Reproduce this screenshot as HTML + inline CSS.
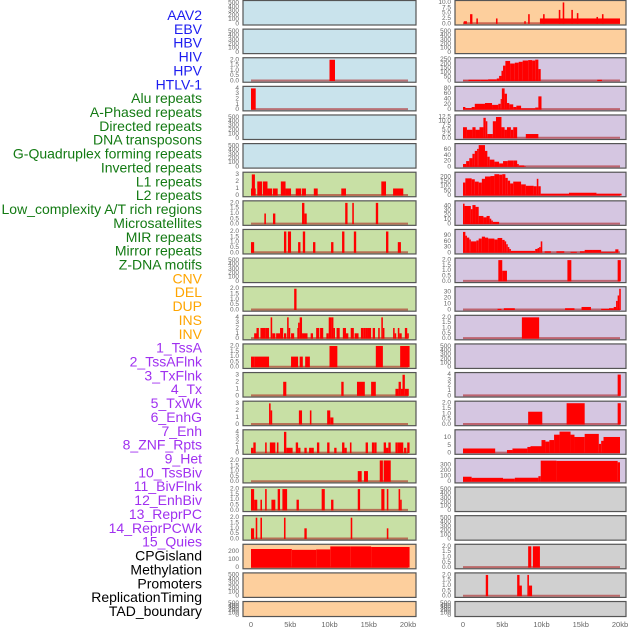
<!DOCTYPE html>
<html><head><meta charset="utf-8">
<style>
html,body{margin:0;padding:0;background:#fff;}
svg{display:block;font-family:"Liberation Sans",sans-serif;}
</style></head>
<body>
<svg id="chart" width="630" height="630" viewBox="0 0 630 630"></svg>
<script>
// ---------- data ----------
const trackLabels = ["AAV2","EBV","HBV","HIV","HPV","HTLV-1","Alu repeats","A-Phased repeats","Directed repeats","DNA transposons","G-Quadruplex forming repeats","Inverted repeats","L1 repeats","L2 repeats","Low_complexity A/T rich regions","Microsatellites","MIR repeats","Mirror repeats","Z-DNA motifs","CNV","DEL","DUP","INS","INV","1_TssA","2_TssAFlnk","3_TxFlnk","4_Tx","5_TxWk","6_EnhG","7_Enh","8_ZNF_Rpts","9_Het","10_TssBiv","11_BivFlnk","12_EnhBiv","13_ReprPC","14_ReprPCWk","15_Quies","CPGisland","Methylation","Promoters","ReplicationTiming","TAD_boundary"];
const labelGroups = [6,13,5,15,5];
const xTickValues = [0,5,10,15,20];
const xTickLabels = ["0","5kb","10kb","15kb","20kb"];

const leftBg = ["blue","blue","blue","blue","blue","blue","green","green","green","green","green","green","green","green","green","green","green","green","green","orange","orange","orange"];
const rightBg = ["orange","orange","purple","purple","purple","purple","purple","purple","purple","purple","purple","purple","purple","purple","purple","purple","purple","gray","gray","gray","gray","gray"];

const leftYMax = [520,520,2.05,4.1,520,520,3.1,2.05,2.05,520,2.05,4.1,2.05,3.1,3.1,4.1,2.05,2.05,2.05,270,520,520];
const rightYMax = [10.2,520,255,82,12.8,75,235,48,115,2.05,36,2.05,520,4.1,2.05,14.2,393,520,520,2.05,2.05,520];

const leftTicks = [
 ["0","100","200","300","400","500"],["0","100","200","300","400","500"],["0.0","0.5","1.0","1.5","2.0"],["0","1","2","3","4"],
 ["0","100","200","300","400","500"],["0","100","200","300","400","500"],["0","1","2","3"],["0.0","0.5","1.0","1.5","2.0"],
 ["0.0","0.5","1.0","1.5","2.0"],["0","100","200","300","400","500"],["0.0","0.5","1.0","1.5","2.0"],["0","1","2","3","4"],
 ["0.0","0.5","1.0","1.5","2.0"],["0","1","2","3"],["0","1","2","3"],["0","1","2","3","4"],["0.0","0.5","1.0","1.5","2.0"],
 ["0.0","0.5","1.0","1.5","2.0"],["0.0","0.5","1.0","1.5","2.0"],["0","100","200"],["0","100","200","300","400","500"],["0","100","200","300","400","500"]];
const rightTicks = [
 ["0.0","2.5","5.0","7.5","10.0"],["0","100","200","300","400","500"],["0","50","100","150","200","250"],["0","20","40","60","80"],
 ["0.0","2.5","5.0","7.5","10.0","12.5"],["0","20","40","60"],["0","50","100","150","200"],["0","10","20","30","40"],
 ["0","30","60","90"],["0.0","0.5","1.0","1.5","2.0"],["0","10","20","30"],["0.0","0.5","1.0","1.5","2.0"],
 ["0","100","200","300","400","500"],["0","1","2","3","4"],["0.0","0.5","1.0","1.5","2.0"],["0","5","10"],
 ["0","100","200","300"],["0","100","200","300","400","500"],["0","100","200","300","400","500"],["0.0","0.5","1.0","1.5","2.0"],
 ["0.0","0.5","1.0","1.5","2.0"],["0","100","200","300","400","500"]];

// segments: [startKb, endKb, value]
const leftSegs = [
 [],[],
 [[10.0,10.7,2]],
 [[0,0.6,4]],
 [],[],
 [[0,0.6,1],[0.1,0.5,3],[0.8,1.4,2],[1.5,2.1,2],[2.1,2.7,1],[2.8,3.4,1],[3.8,4.4,2],[4.4,5.1,1],[5.7,6.4,1],[6.5,7.0,1],[8.0,8.5,1],[11.5,12.1,1],[16.6,17.2,2],[18.1,19.4,1]],
 [[1.7,1.9,1],[2.8,3.1,1],[6.5,6.8,2],[6.8,7.1,1],[12.0,12.3,2],[12.9,13.1,2],[15.9,16.2,2]],
 [[0,0.4,1],[4.2,4.5,2],[4.7,5.1,2],[6.0,6.3,1],[6.6,6.9,2],[7.9,8.2,1],[10.2,10.5,1],[11.6,11.9,2],[13.1,13.4,2],[17.2,17.5,2],[18.7,19.1,1]],
 [],
 [[5.5,5.8,2]],
 [[0.4,0.7,1],[0.7,1.0,2],[1.2,1.8,2],[1.8,2.3,2],[2.5,2.7,4],[2.7,3.1,1],[3.2,3.7,1],[3.7,4.1,2],[4.2,4.5,1],[4.6,4.8,4],[4.8,5.0,2],[5.1,5.5,1],[5.9,6.1,2],[6.0,6.2,3],[6.2,6.5,4],[6.5,7.2,1],[7.6,7.9,1],[8.3,8.7,2],[8.8,9.2,2],[9.6,9.9,1],[9.9,10.2,4],[10.2,10.5,4],[10.5,10.7,2],[10.9,11.3,2],[11.7,12.1,2],[12.1,12.4,1],[12.7,13.1,2],[13.2,13.7,1],[14.0,14.3,2],[14.3,14.6,2],[14.6,14.9,2],[14.9,15.3,2],[15.5,15.8,2],[16.2,16.4,2],[16.6,16.8,4],[16.8,17.0,2],[18.1,18.3,2],[18.3,18.5,1],[18.7,18.9,2],[18.9,19.2,1],[19.6,19.9,2],[19.9,20.1,1]],
 [[0,0.4,1],[0.4,2.3,1],[5.1,6.0,1],[6.2,6.6,1],[6.9,7.5,1],[10.0,11.0,2],[15.9,16.8,2],[19.0,20.2,2]],
 [[4.1,4.5,2],[11.5,11.8,2],[13.5,14.5,2],[15.3,15.9,2],[18.4,18.8,1],[18.8,19.1,2],[19.1,19.3,1],[19.3,19.6,3],[19.6,20.1,1]],
 [[2.3,2.5,3],[2.5,2.7,2],[6.1,6.5,2],[7.5,7.7,2],[9.7,10.1,2],[10.1,10.5,1]],
 [[0,0.3,1],[0.3,0.6,2],[1.8,2.0,2],[2.4,3.1,2],[3.3,3.5,2],[4.2,4.5,4],[4.5,5.3,1],[5.7,6.0,2],[6.0,6.3,1],[6.8,7.1,1],[7.4,7.7,1],[7.7,8.0,1],[8.4,8.7,2],[9.7,10.0,2],[10.6,10.9,1],[11.6,11.9,2],[11.9,12.2,1],[12.6,12.8,2],[14.6,14.9,2],[15.4,15.7,2],[15.7,16.0,2],[16.9,17.2,2],[17.2,17.5,1],[17.5,17.8,2],[18.4,18.7,2],[18.7,19.4,2],[19.5,19.8,1],[19.9,20.2,2]],
 [[13.6,14.1,1],[14.4,14.9,1],[16.4,16.8,2],[16.9,17.8,2]],
 [[0,0.4,2],[0.4,0.8,1],[1.2,1.4,1],[1.8,2.0,2],[2.6,3.1,1],[3.4,3.7,2],[4.0,4.6,2],[5.8,6.1,1],[9.0,9.4,2],[10.2,10.5,1],[13.6,13.9,2],[16.6,17.0,2],[17.3,17.5,2],[18.8,19.0,2],[19.0,19.2,1]],
 [[0,0.4,1],[0.6,0.8,2],[1.2,1.4,2],[4.2,4.4,2],[6.8,7.1,1],[12.7,12.9,2],[17.3,17.5,1]],
 [[0,5.2,230],[5.2,8.3,220],[8.3,10.1,225],[10.1,12.7,262],[12.7,15.3,262],[15.3,20.2,255]],
 [],[]];

const rightSegs = [
 [[0.1,0.5,1.2],[0.9,1.2,4.5],[1.7,1.9,2.5],[4.2,4.4,2.5],[7.8,8.0,1.2],[8.3,8.5,4.5],[9.8,20.0,2.5],[10.2,10.4,4.5],[12.2,12.4,6.5],[12.7,12.9,10],[13.8,14.0,6.5],[14.5,14.7,5],[17.0,17.2,3.2],[17.7,17.9,4.5]],
 [],
 [[0,0.7,5],[0.7,2.2,15],[2.2,3.2,15],[3.2,4.3,20],[4.3,4.6,30],[4.6,4.9,60],[4.9,5.1,120],[5.1,5.4,180],[5.4,6.0,235],[6.0,6.6,205],[6.6,7.1,215],[7.1,7.6,225],[7.6,8.3,240],[8.3,8.8,245],[8.8,9.2,240],[9.2,9.6,250],[9.6,9.9,140],[17.1,17.7,15]],
 [[0,0.3,10],[0.3,1.1,6],[1.1,1.5,10],[1.5,2.8,22],[2.8,3.7,25],[3.7,4.5,18],[4.5,4.8,22],[4.8,4.95,40],[4.95,5.3,80],[5.3,5.6,60],[5.6,5.9,25],[5.9,6.4,20],[6.4,6.8,10],[6.8,7.4,15],[7.4,9.2,5],[9.2,9.6,8],[9.6,10.0,50]],
 [[0,0.5,6.5],[0.5,1.2,5],[1.2,1.6,6.5],[1.6,2.1,5],[2.1,2.6,6.5],[2.6,2.9,12],[2.9,3.1,10],[3.1,3.8,2.5],[3.8,4.2,10],[4.2,4.9,12.5],[4.9,5.3,6.5],[5.3,5.6,5],[5.6,6.1,6.5],[6.1,6.4,5],[6.4,6.9,6.5],[8.0,9.6,2.5]],
 [[0,0.4,10],[0.4,0.8,20],[0.8,1.2,30],[1.2,1.5,45],[1.5,1.8,55],[1.8,2.0,62],[2.0,2.8,75],[2.8,3.1,55],[3.1,3.4,35],[3.4,4.0,25],[4.0,4.6,18],[4.6,5.1,12],[5.1,5.7,20],[5.7,6.4,22],[6.4,6.9,22],[6.9,7.1,10],[7.1,7.8,5],[7.8,8.0,2]],
 [[0,0.3,140],[0.3,1.1,185],[1.1,1.5,175],[1.5,2.0,150],[2.0,2.4,140],[2.4,2.8,180],[2.8,3.5,205],[3.5,4.0,210],[4.0,4.6,230],[4.6,5.0,225],[5.0,5.4,230],[5.4,5.7,190],[5.7,6.0,160],[6.0,6.4,130],[6.4,7.4,150],[7.4,8.0,120],[8.0,9.0,105],[9.0,9.4,100],[9.4,9.6,180],[9.6,9.9,100],[9.9,13.5,20],[13.5,17.0,30],[17.0,20.2,20]],
 [[0,0.2,45],[0.2,1.0,40],[1.0,1.2,33],[1.2,1.6,42],[1.6,2.0,38],[2.0,2.6,18],[2.6,3.0,15],[3.0,3.4,18],[3.4,3.6,12],[3.6,3.8,8],[3.8,4.6,5]],
 [[0,0.3,110],[0.3,0.5,90],[0.5,0.8,80],[0.8,1.0,70],[1.0,1.7,60],[1.7,2.0,65],[2.0,2.4,75],[2.4,2.8,85],[2.8,3.2,80],[3.2,4.0,75],[4.0,4.4,70],[4.4,5.0,78],[5.0,5.3,68],[5.3,5.5,60],[5.5,5.7,45],[5.7,5.9,30],[5.9,6.1,20],[6.1,9.2,10],[9.2,9.5,20],[9.5,9.7,25],[9.7,9.9,30],[9.9,10.1,60],[10.4,11.2,8],[11.9,12.9,8],[13.7,14.5,5],[14.9,15.5,8],[15.5,16.5,15],[16.5,17.6,15],[17.6,19.4,5],[19.4,19.8,18]],
 [[4.5,5.0,2],[5.0,5.6,1],[13.3,13.8,2],[19.7,20.1,2]],
 [[4.4,4.9,2],[5.2,6.6,3],[13.0,14.2,3],[15.1,16.3,5],[17.6,18.6,2],[18.6,19.2,3],[19.2,19.5,5],[19.5,19.7,15],[19.7,19.9,24],[19.9,20.1,35]],
 [[7.5,9.7,2]],
 [],
 [[19.7,20.1,4]],
 [[8.3,10.1,1.2],[13.2,15.5,2],[19.7,20.1,2]],
 [[0,4.1,3],[5.6,6.3,2],[6.3,8.2,3],[8.2,8.6,4],[8.6,10.0,4.5],[10.0,10.5,8.5],[10.5,11.0,7.5],[11.0,11.6,8.5],[11.6,12.3,12],[12.3,13.7,14],[13.7,14.2,12],[14.2,15.5,10.5],[15.5,17.3,12.5],[17.3,17.6,6],[17.6,17.9,8],[17.9,20.0,10.5]],
 [[0,1.1,90],[1.1,5.1,70],[5.1,6.6,55],[6.6,9.6,72],[9.6,9.9,100],[9.9,11.9,380],[11.9,19.7,375],[19.7,20.0,350]],
 [],[],
 [[8.3,8.7,2],[8.9,9.8,2]],
 [[2.9,3.2,2],[6.9,7.2,2],[7.2,7.5,1],[8.2,8.4,2],[8.4,8.8,1]],
 []];

// ---------- drawing ----------
const NS = "http://www.w3.org/2000/svg";
const svg = document.getElementById("chart");
const bgColors = {blue:"#c9e3ec",green:"#c8e0a5",orange:"#fdcf9d",purple:"#d5c6e1",gray:"#d0d0d0"};
const groupColors = ["#1c1cf0","#137a13","#ffa500","#a030f0","#000000"];
function mk(tag, attrs){const e=document.createElementNS(NS,tag);for(const k in attrs)e.setAttribute(k,attrs[k]);return e;}

// labels
let gi=0, gcount=0;
trackLabels.forEach((lab,i)=>{
  while(gcount>=labelGroups[gi]){gcount=0;gi++;}
  gcount++;
  const t=mk("text",{x:202,y:15+i*13.86,"text-anchor":"end","dominant-baseline":"central","font-size":"14",fill:groupColors[gi]});
  
  
  t.textContent=lab;
  svg.appendChild(t);
});

const cols = [
  {x:243,w:173,x0:251,x1:408,bg:leftBg,ymax:leftYMax,ticks:leftTicks,segs:leftSegs,name:"left"},
  {x:455,w:171,x0:463,x1:620,bg:rightBg,ymax:rightYMax,ticks:rightTicks,segs:rightSegs,name:"right"}
];
cols.forEach(c=>{
  const xs = kb => c.x0 + (kb/20)*(c.x1-c.x0);
  for(let i=0;i<22;i++){
    const top = i*28.62+0.5;
    const h = i===21?15:24.5;
    const g=mk("g",{});
    
    
    svg.appendChild(g);
    g.appendChild(mk("rect",{x:c.x,y:top,width:c.w,height:h,fill:bgColors[c.bg[i]]}));
    const pTop=top+1.5, pBot=top+h-1.2;
    const ymax=c.ymax[i];
    const ys = v => pBot - (v/ymax)*(pBot-pTop);
    const segs=c.segs[i];
    if(segs.length){
      const bl=mk("line",{x1:xs(0),x2:xs(20),y1:pBot-0.5,y2:pBot-0.5,stroke:"rgba(170,20,20,0.55)","stroke-width":"2"});
      
      
      g.appendChild(bl);
    }
    segs.forEach(s=>{
      const r=mk("rect",{x:xs(s[0]),y:ys(s[2]),width:Math.max(0.8,xs(s[1])-xs(s[0])),height:pBot-ys(s[2]),fill:"#ff0000"});
      
      
      g.appendChild(r);
    });
    // y ticks
    const tk=c.ticks[i];
    const tmax=parseFloat(tk[tk.length-1]);
    tk.forEach(lab=>{
      const v=parseFloat(lab);
      const t=mk("text",{x:c.x-4,y:ys(v),"text-anchor":"end","dominant-baseline":"central","font-size":"6.5",fill:"#666"});
      
      
      t.textContent=lab;
      g.appendChild(t);
    });
    const fr=mk("rect",{x:c.x,y:top,width:c.w,height:h,fill:"none",stroke:"#555","stroke-width":"1.2"});
    
    
    g.appendChild(fr);
  }
  xTickValues.forEach((v,k)=>{
    const t=mk("text",{x:xs(v),y:627,"text-anchor":"middle","font-size":"7.5",fill:"#666"});
    
    
    t.textContent=xTickLabels[k];
    svg.appendChild(t);
  });
});
</script>
</body></html>
